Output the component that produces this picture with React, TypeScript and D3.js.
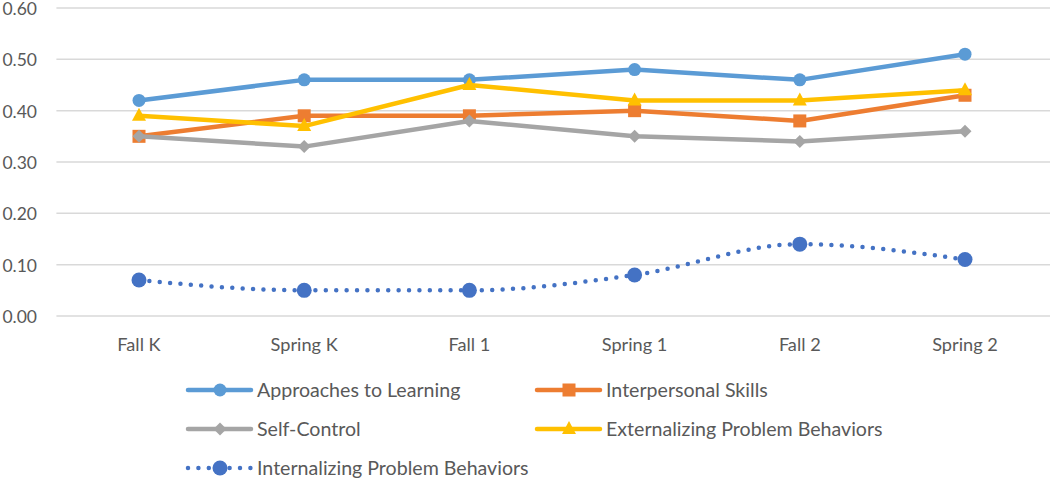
import React from "react";
import * as d3 from "d3";

const categories = ["Fall K", "Spring K", "Fall 1", "Spring 1", "Fall 2", "Spring 2"];
const approaches = [0.42, 0.46, 0.46, 0.48, 0.46, 0.51];
const interpersonal = [0.35, 0.39, 0.39, 0.4, 0.38, 0.43];
const selfControl = [0.35, 0.33, 0.38, 0.35, 0.34, 0.36];
const externalizing = [0.39, 0.37, 0.45, 0.42, 0.42, 0.44];
const internalizing = [0.07, 0.05, 0.05, 0.08, 0.14, 0.11];
const yTicks = [0, 0.1, 0.2, 0.3, 0.4, 0.5, 0.6];

type Marker = "circle" | "square" | "diamond" | "triangle";

const series: { name: string; values: number[]; color: string; marker: Marker; dotted?: boolean }[] = [
  { name: "Approaches to Learning", values: approaches, color: "#5B9BD5", marker: "circle" },
  { name: "Interpersonal Skills", values: interpersonal, color: "#ED7D31", marker: "square" },
  { name: "Self-Control", values: selfControl, color: "#A5A5A5", marker: "diamond" },
  { name: "Externalizing Problem Behaviors", values: externalizing, color: "#FFC000", marker: "triangle" },
  { name: "Internalizing Problem Behaviors", values: internalizing, color: "#4472C4", marker: "circle", dotted: true },
];

const W = 1050;
const H = 479;
const font = "Lato, 'Open Sans', sans-serif";

function markerShape(kind: Marker, x: number, y: number, color: string, big = false) {
  if (kind === "circle") return <circle cx={x} cy={y} r={big ? 7.5 : 6.5} fill={color} />;
  if (kind === "square") return <rect x={x - 6.5} y={y - 6.5} width={13} height={13} fill={color} />;
  if (kind === "diamond") return <path d={`M${x},${y - 6.5}L${x + 6.5},${y}L${x},${y + 6.5}L${x - 6.5},${y}Z`} fill={color} />;
  return <path d={`M${x},${y - 8}L${x + 7},${y + 5}L${x - 7},${y + 5}Z`} fill={color} />;
}

export default function App() {
  const x = d3.scaleBand().domain(categories).range([56.4, 1047.6]);
  const y = d3.scaleLinear().domain([0, 0.6]).range([316, 8]);
  const cx = (c: string) => x(c)! + x.bandwidth() / 2;

  const straight = d3.line<number>().x((_, i) => cx(categories[i])).y((v) => y(v));
  const smooth = d3
    .line<number>()
    .x((_, i) => cx(categories[i]))
    .y((v) => y(v))
    .curve(d3.curveMonotoneX);

  const legend = [
    { s: series[0], lx: 188, ly: 390 },
    { s: series[1], lx: 537, ly: 390 },
    { s: series[2], lx: 188, ly: 429 },
    { s: series[3], lx: 537, ly: 429 },
    { s: series[4], lx: 188, ly: 468 },
  ];

  return (
    <svg width={W} height={H} style={{ position: "absolute", left: 0, top: 0, background: "#fff" }} fontFamily={font}>
      {yTicks.map((t) => (
        <g key={t}>
          <line x1={56.4} x2={W} y1={y(t)} y2={y(t)} stroke="#D9D9D9" strokeWidth={1.5} />
          <text x={37} y={y(t) + 1} dy="0.35em" textAnchor="end" fontSize={17.5} fill="#595959">
            {t.toFixed(2)}
          </text>
        </g>
      ))}
      {categories.map((c) => (
        <text key={c} x={cx(c)} y={345} dy="0.35em" textAnchor="middle" fontSize={18.2} fill="#595959">
          {c}
        </text>
      ))}
      {series.map((s) => (
        <g key={s.name}>
          <path
            d={(s.dotted ? smooth : straight)(s.values) || ""}
            fill="none"
            stroke={s.color}
            strokeWidth={4.5}
            strokeLinecap={s.dotted ? "round" : "butt"}
            strokeLinejoin="round"
            strokeDasharray={s.dotted ? "0 10.4" : undefined}
          />
          {s.values.map((v, i) => (
            <g key={i}>{markerShape(s.marker, cx(categories[i]), y(v), s.color, s.dotted)}</g>
          ))}
        </g>
      ))}
      {legend.map(({ s, lx, ly }) => (
        <g key={s.name}>
          <line
            x1={lx}
            x2={lx + 63}
            y1={ly}
            y2={ly}
            stroke={s.color}
            strokeWidth={4.5}
            strokeLinecap="round"
            strokeDasharray={s.dotted ? "0 10.4" : undefined}
          />
          {markerShape(s.marker, lx + 32, ly, s.color, s.dotted)}
          <text x={lx + 69} y={ly} dy="0.35em" fontSize={19.6} fill="#595959">
            {s.name}
          </text>
        </g>
      ))}
    </svg>
  );
}
